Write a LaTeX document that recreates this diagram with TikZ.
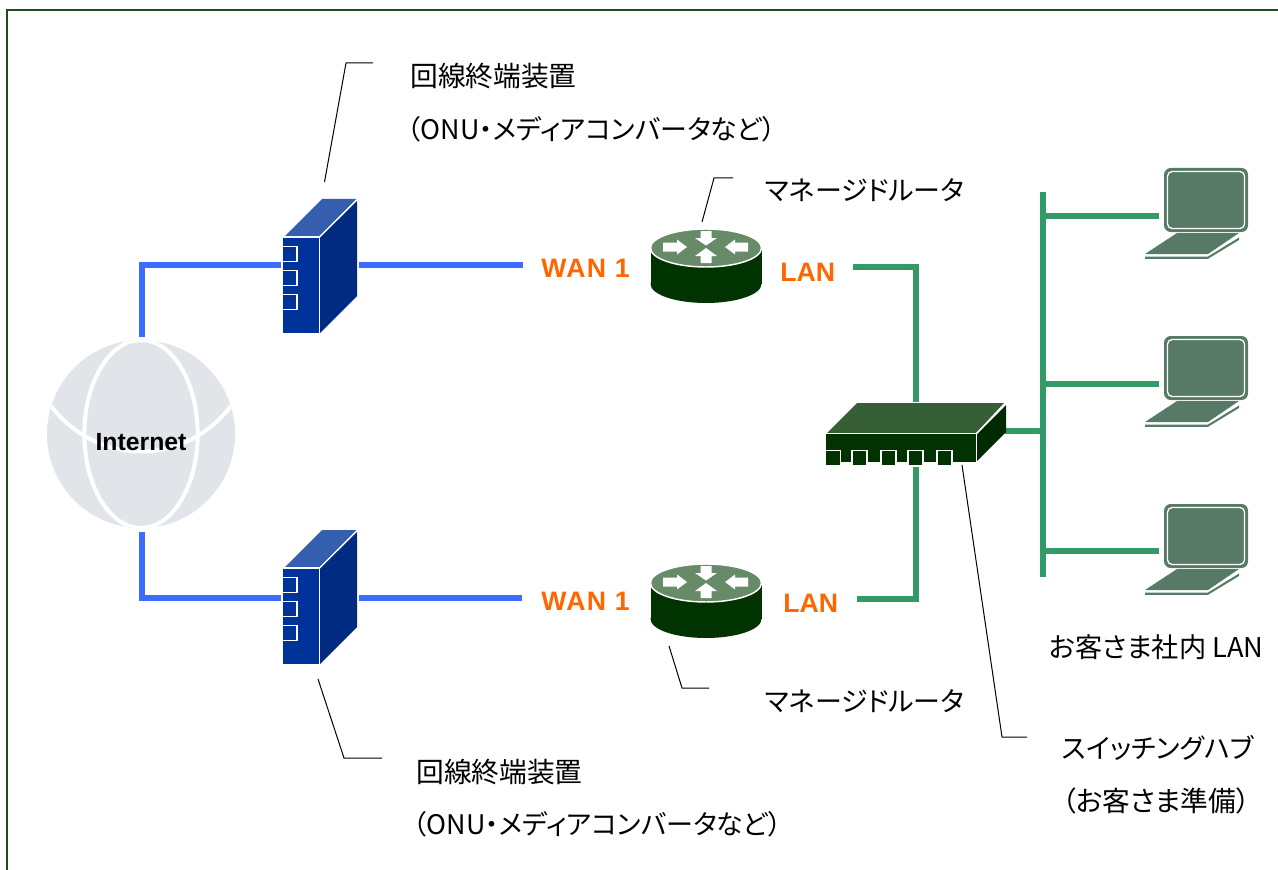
\documentclass[tikz,border=0pt]{standalone}
\usepackage{fontspec}
\setmainfont{Liberation Sans}
\newfontfamily\jpfont[RawFeature=+palt]{Noto Sans CJK JP}
\definecolor{frameG}{HTML}{1F4D1F}
\definecolor{blueL}{HTML}{3B6CFF}
\definecolor{greenL}{HTML}{339966}
\definecolor{boxF}{HTML}{003399}
\definecolor{boxS}{HTML}{002B80}
\definecolor{boxT}{HTML}{355FAE}
\definecolor{darkG}{HTML}{003300}
\definecolor{sideG}{HTML}{002B00}
\definecolor{topG}{HTML}{365F36}
\definecolor{routerT}{HTML}{678A68}
\definecolor{lapG}{HTML}{567A66}
\definecolor{globeC}{HTML}{E1E5EA}
\definecolor{wanO}{HTML}{FF6600}
\tikzset{
  x=0.75pt,y=-0.75pt,
  blueline/.style={draw=blueL,line width=4.5pt},
  greenline/.style={draw=greenL,line width=4.5pt},
  leader/.style={draw=black,line width=0.75pt},
  jptext/.style={anchor=west,inner sep=0pt,font=\jpfont\fontsize{20.2}{24}\selectfont,text=black},
  jpkanji/.style={jptext,font=\jpfont\fontsize{20.8}{24}\selectfont},
  wanlabel/.style={anchor=west,inner sep=0pt,font=\fontsize{20}{24}\selectfont\bfseries\addfontfeatures{LetterSpace=5},text=wanO},
  lanlabel/.style={anchor=west,inner sep=0pt,font=\fontsize{20}{24}\selectfont\bfseries,text=wanO},
}
\newcommand{\mediabox}[2]{%
 \begin{scope}[shift={(#1,#2)}]
  \path[fill=boxT] (284.5,236.5) -- (322,199) -- (356.5,199) -- (319,236.5) -- cycle;
  \path[fill=boxS] (320,237.5) -- (357,201) -- (357,296) -- (320,333) -- cycle;
  \path[fill=boxF] (283,237.5) rectangle (319,333);
  \draw[white,line width=0.8pt] (283,237) -- (319.5,237) -- (319.5,333);
  \draw[white,line width=0.8pt] (319.5,237) -- (357,199.5);
  \draw[white,line width=1pt] (283,246.5) -| (297,261.5) -- (283,261.5);
  \draw[white,line width=1pt] (283,270.5) -| (297,285.5) -- (283,285.5);
  \draw[white,line width=1pt] (283,294.5) -| (297,309.5) -- (283,309.5);
 \end{scope}}
\newcommand{\routerdev}[2]{%
 \begin{scope}[shift={(#1,#2)}]
  \path[fill=darkG] (706,284) ellipse [x radius=55.5pt*0.75,y radius=19pt*0.75];
  \path[fill=darkG] (650.5,248) rectangle (761.5,284);
  \path[fill=routerT,draw=white,line width=1.1pt] (706,248) ellipse [x radius=55.5pt*0.75,y radius=19pt*0.75];
  \path[fill=white] (663,242.5) -- (677,242.5) -- (677,239.5) -- (687,247) -- (677,254.5) -- (677,251.5) -- (663,251.5) -- cycle;
  \path[fill=white] (748,242.5) -- (735,242.5) -- (735,239.5) -- (725,247) -- (735,254.5) -- (735,251.5) -- (748,251.5) -- cycle;
  \path[fill=white] (700.5,231) -- (711.5,231) -- (711.5,238) -- (717,238) -- (706,245.5) -- (695,238) -- (700.5,238) -- cycle;
  \path[fill=white] (700.5,263) -- (711.5,263) -- (711.5,256) -- (717,256) -- (706,248) -- (695,256) -- (700.5,256) -- cycle;
 \end{scope}}
\newcommand{\laptopdev}[2]{%
 \begin{scope}[shift={(#1,#2)}]
  \path[fill=lapG,rounded corners=5pt] (1164,168) rectangle (1248,232);
  \draw[white,line width=1pt,rounded corners=3.5pt] (1167.5,171.5) rectangle (1244.5,228.5);
  \path[fill=lapG] (1177,233) -- (1239,233) -- (1208,254) -- (1145,254) -- cycle;
  \path[fill=lapG] (1145,256.5) -- (1208,256.5) -- (1239,237.5) -- (1239,240) -- (1208,258.8) -- (1145,258.8) -- cycle;
 \end{scope}}
\begin{document}
\begin{tikzpicture}
\useasboundingbox (0,0) rectangle (1278,870);
\path[fill=white] (0,0) rectangle (1278,870);
\coordinate (fbl) at (7,870); \coordinate (ftl) at (7,10.5); \coordinate (ftr) at (1278,10.5);
\draw[frameG,line width=1.5pt,line join=miter] (fbl) -- (ftl) -- (ftr);

% globe
\node[circle,fill=globeC,minimum size=141pt,inner sep=0pt,outer sep=0pt] (globe) at (141,434) {};
\begin{scope}
 \clip (141,434) circle [radius=70.5pt];
 \draw[white,line width=3pt] (141,434) ellipse [x radius=42.5pt,y radius=70.5pt];
 \draw[white,line width=3pt] (48,402) .. controls (95,468) and (187,468) .. (234,402);
\end{scope}
\node[inner sep=0pt,font=\fontsize{18.6}{22}\selectfont\bfseries] (inet) at (141,442) {Internet};

% coordinates for connectors
\coordinate (gT) at (141.5,337); \coordinate (bnT) at (141.5,264.5); \coordinate (box1W) at (281,264.5);
\coordinate (box1E) at (358.5,264.5); \coordinate (wan1W) at (523,264.5);
\coordinate (gB) at (141.5,532); \coordinate (bnB) at (141.5,598); \coordinate (box2W) at (281,598);
\coordinate (box2E) at (358.5,598); \coordinate (wan2W) at (522,598);
\coordinate (lan1E) at (853,267); \coordinate (gn1) at (916,267); \coordinate (hubT) at (916,402);
\coordinate (lan2E) at (857,599); \coordinate (gn2) at (916,599); \coordinate (hubB) at (916,467);
\coordinate (hubE) at (1005,431); \coordinate (busM) at (1043,431);
\coordinate (busT) at (1043,192); \coordinate (busB) at (1043,577);
\coordinate (b1) at (1043,216); \coordinate (l1) at (1159,216);
\coordinate (b2) at (1043,384); \coordinate (l2) at (1159,384);
\coordinate (b3) at (1043,551); \coordinate (l3) at (1159,551);

\draw[blueline,line join=miter] (gT) -- (bnT) -- (box1W);
\draw[blueline] (box1E) -- (wan1W);
\draw[blueline,line join=miter] (gB) -- (bnB) -- (box2W);
\draw[blueline] (box2E) -- (wan2W);
\draw[greenline,line join=miter] (lan1E) -- (gn1) -- (hubT);
\draw[greenline,line join=miter] (lan2E) -- (gn2) -- (hubB);
\draw[greenline] (hubE) -- (busM);
\draw[greenline] (busT) -- (busB);
\draw[greenline] (b1) -- (l1);
\draw[greenline] (b2) -- (l2);
\draw[greenline] (b3) -- (l3);

% devices
\mediabox{0}{0}
\mediabox{0}{331}
\routerdev{0}{0}
\routerdev{0}{335}
\laptopdev{0}{0}
\laptopdev{0}{168}
\laptopdev{0}{336}

% hub
\path[fill=topG] (827,433) -- (857,403) -- (1004,403) -- (976,433) -- cycle;
\path[fill=sideG] (977,434) -- (1006,405) -- (1006,432) -- (977,461) -- cycle;
\path[fill=darkG] (826,434) rectangle (976,462);
\draw[white,line width=0.9pt] (826,433.5) -- (976.5,433.5) -- (976.5,462);
\draw[white,line width=0.9pt] (976.5,433.5) -- (1005,404.5);
\foreach \tx in {826,852.7,881.7,908.7,937.7}{
  \path[fill=white] (\tx-1.5,449.8) rectangle (\tx+15,462.5);
  \path[fill=darkG] (\tx,451.2) rectangle (\tx+13.5,465);
}
\path[fill=white] (824,451) rectangle (826,466);

% leaders
\coordinate (a1) at (324.5,182); \coordinate (a2) at (346,63); \coordinate (a3) at (373,63);
\coordinate (c1) at (702,222); \coordinate (c2) at (714,178); \coordinate (c3) at (733,178);
\coordinate (d1) at (669,646); \coordinate (d2) at (682,688); \coordinate (d3) at (709,688);
\coordinate (e1) at (318,679); \coordinate (e2) at (344,758); \coordinate (e3) at (382,758);
\coordinate (f1) at (962,465); \coordinate (f2) at (1002,737); \coordinate (f3) at (1027,737);
\draw[leader] (a1) -- (a2) -- (a3);
\draw[leader] (c1) -- (c2) -- (c3);
\draw[leader] (d1) -- (d2) -- (d3);
\draw[leader] (e1) -- (e2) -- (e3);
\draw[leader] (f1) -- (f2) -- (f3);

% labels
\node[jpkanji] (t1) at (410,76) {回線終端装置};
\node[jptext] (t2) at (407,129) {（ONU・メディアコンバータなど）};
\node[jpkanji] (t3) at (416,772) {回線終端装置};
\node[jptext] (t4) at (413,824) {（ONU・メディアコンバータなど）};
\node[jptext] (t5) at (765,190) {マネージドルータ};
\node[jptext] (t6) at (765,701) {マネージドルータ};
\node[jptext] (t7) at (1062,748) {スイッチングハブ};
\node[jpkanji] (t8) at (1062,801) {（お客さま準備）};
\node[jptext,font=\jpfont\fontsize{20.4}{24}\selectfont] (t9) at (1049,647) {お客さま社内 LAN};
\node[wanlabel] (w1) at (541,268) {WAN 1};
\node[wanlabel] (w2) at (541,601) {WAN 1};
\node[lanlabel] (la1) at (780,272) {LAN};
\node[lanlabel] (la2) at (783,603) {LAN};
\end{tikzpicture}
\end{document}
